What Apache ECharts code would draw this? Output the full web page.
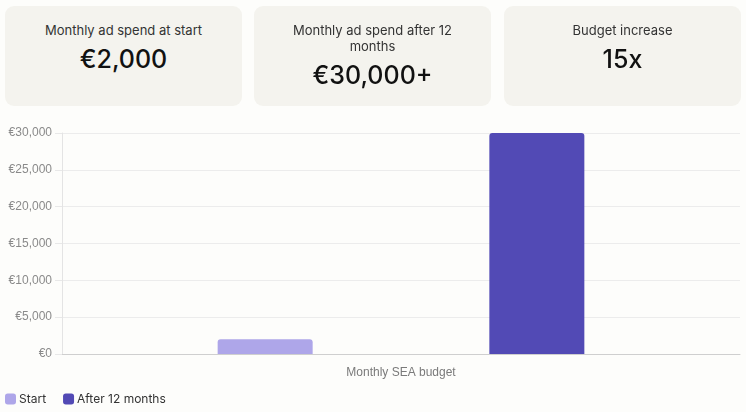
<!DOCTYPE html>
<html>
<head>
<meta charset="utf-8">
<script src="https://cdn.jsdelivr.net/npm/echarts@6/dist/echarts.min.js"></script>
<style>
  html, body { margin: 0; padding: 0; background: #fdfdfb; }
  #wrap { position: relative; width: 746px; height: 412px; overflow: hidden; }
  .card {
    position: absolute; top: 6px; height: 100px; width: 237px;
    background: #f4f3ee; border-radius: 9px; text-align: center;
    font-family: Inter, "Noto Sans", sans-serif; color: #111;
  }
  .card .t { font-size: 13px; color: #333; margin: 16px 28px 0; line-height: 16px; }
  .card .v { font-size: 25px; font-weight: 500; margin-top: 4px; line-height: 34px; }
  #main { position: absolute; left: 0; top: 0; width: 746px; height: 412px; }
</style>
</head>
<body>
<div id="wrap">
  <div id="main"></div>
</div>
<script>
// 顶部卡片
var cardTitles = ['Monthly ad spend at start', 'Monthly ad spend after 12 months', 'Budget increase'];
var cardValues = ['€2,000', '€30,000+', '15x'];
var cardLefts = [5, 254, 504];

// 图表数据
var categories = ['Monthly SEA budget'];
var seriesNames = ['Start', 'After 12 months'];
var startValues = [2000];
var afterValues = [30000];

var wrap = document.getElementById('wrap');
for (var i = 0; i < cardTitles.length; i++) {
    var c = document.createElement('div');
    c.className = 'card';
    c.style.left = cardLefts[i] + 'px';
    c.innerHTML = '<div class="t">' + cardTitles[i] + '</div><div class="v">' + cardValues[i] + '</div>';
    wrap.appendChild(c);
}

var myChart = echarts.init(document.getElementById('main'));
var option = {
    backgroundColor: 'transparent',
    animation: false,
    grid: { left: 62, right: 6, top: 133, bottom: 58 },
    legend: {
        left: 0,
        bottom: 2,
        itemWidth: 11,
        itemHeight: 11,
        itemGap: 17,
        icon: 'roundRect',
        textStyle: { fontFamily: 'Inter', fontSize: 12, color: '#333', padding: [0, 0, 0, -2] },
        data: seriesNames
    },
    xAxis: {
        type: 'category',
        data: categories,
        axisLine: { lineStyle: { color: '#cfcfcf', width: 1 } },
        axisTick: { show: false },
        axisLabel: { color: '#7a7a7a', fontSize: 12, fontFamily: 'Liberation Sans', margin: 13 }
    },
    yAxis: {
        type: 'value',
        min: 0,
        max: 30000,
        interval: 5000,
        axisLine: { show: true, lineStyle: { color: '#e4e4e4' } },
        axisTick: { show: true, length: 7, lineStyle: { color: '#e8e8e8' } },
        splitLine: { lineStyle: { color: '#ececec' } },
        axisLabel: {
            color: '#8a8a8a', fontSize: 12, fontFamily: 'Liberation Sans', margin: 10,
            formatter: function (v) { return '€' + v.toLocaleString('en-US'); }
        }
    },
    series: [
        {
            name: seriesNames[0],
            type: 'bar',
            data: startValues,
            barWidth: 95,
            barGap: '186%',
            itemStyle: { color: '#aea6e9', borderRadius: [3, 3, 0, 0] }
        },
        {
            name: seriesNames[1],
            type: 'bar',
            data: afterValues,
            barWidth: 95,
            itemStyle: { color: '#524ab5', borderRadius: [3, 3, 0, 0] }
        }
    ]
};
myChart.setOption(option);
</script>
</body>
</html>
